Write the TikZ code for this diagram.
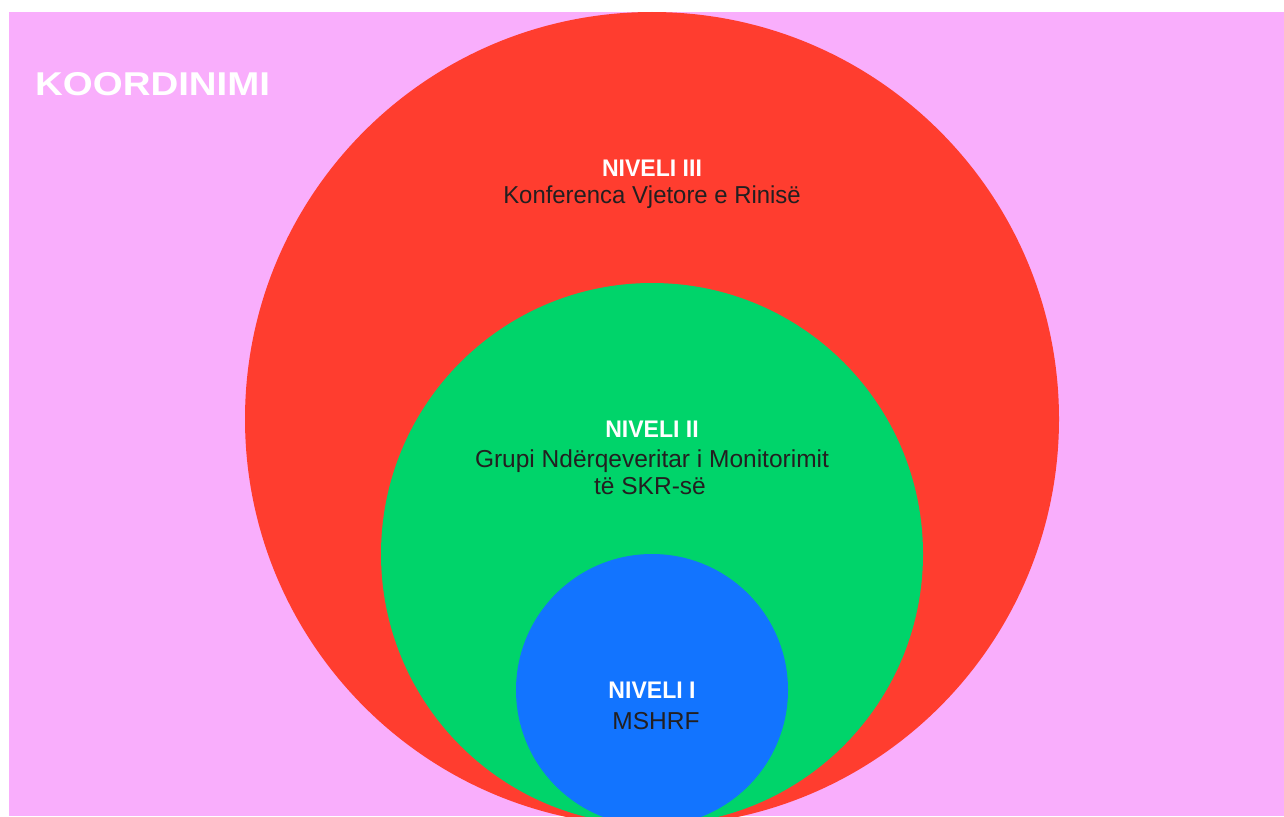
\documentclass[tikz,border=0pt]{standalone}
\usepackage{fontspec}
\setmainfont{Liberation Sans}
\definecolor{bgpink}{HTML}{F9AEFC}
\definecolor{lvred}{HTML}{FF3D2F}
\definecolor{lvgreen}{HTML}{00D46A}
\definecolor{lvblue}{HTML}{1274FF}
\definecolor{txtdark}{HTML}{231F20}
\begin{document}
\begin{tikzpicture}[x=1pt,y=-1pt,
  lvtitle/.style={text=white,font=\fontsize{24}{28}\selectfont\bfseries,inner sep=0pt,anchor=base},
  lvtext/.style={text=txtdark,font=\fontsize{24.5}{28}\selectfont,inner sep=0pt,anchor=base},
  maintitle/.style={text=white,font=\fontsize{33}{38}\selectfont\bfseries,inner sep=0pt,anchor=base west}]
\useasboundingbox (0,0) rectangle (1284,816);
\fill[white] (0,0) rectangle (1284,816);
\fill[bgpink] (9,12) rectangle (1284,816);
\begin{scope}
\clip (9,12) rectangle (1284,816);
\fill[lvred] (652,419) circle[radius=407];
\fill[lvgreen] (652,554) circle[radius=271];
\fill[lvblue] (652,690) circle[radius=136];
\end{scope}
\node[maintitle] (title) at (35,95) {\scalebox{1.165}[1]{KOORDINIMI}};
\node[lvtitle] (l3head) at (652,176) {\scalebox{0.96}[1]{NIVELI III}};
\node[lvtext] (l3text) at (652,203) {\scalebox{0.975}[1]{Konferenca Vjetore e Rinisë}};
\node[lvtitle] (l2head) at (652,437) {\scalebox{0.96}[1]{NIVELI II}};
\node[lvtext] (l2text) at (652,467) {Grupi Ndërqeveritar i Monitorimit};
\node[lvtext] (l2text2) at (650,494) {të SKR-së};
\node[lvtitle] (l1head) at (652,698) {\scalebox{0.96}[1]{NIVELI I}};
\node[lvtext] (l1text) at (656,729) {MSHRF};
\end{tikzpicture}
\end{document}
